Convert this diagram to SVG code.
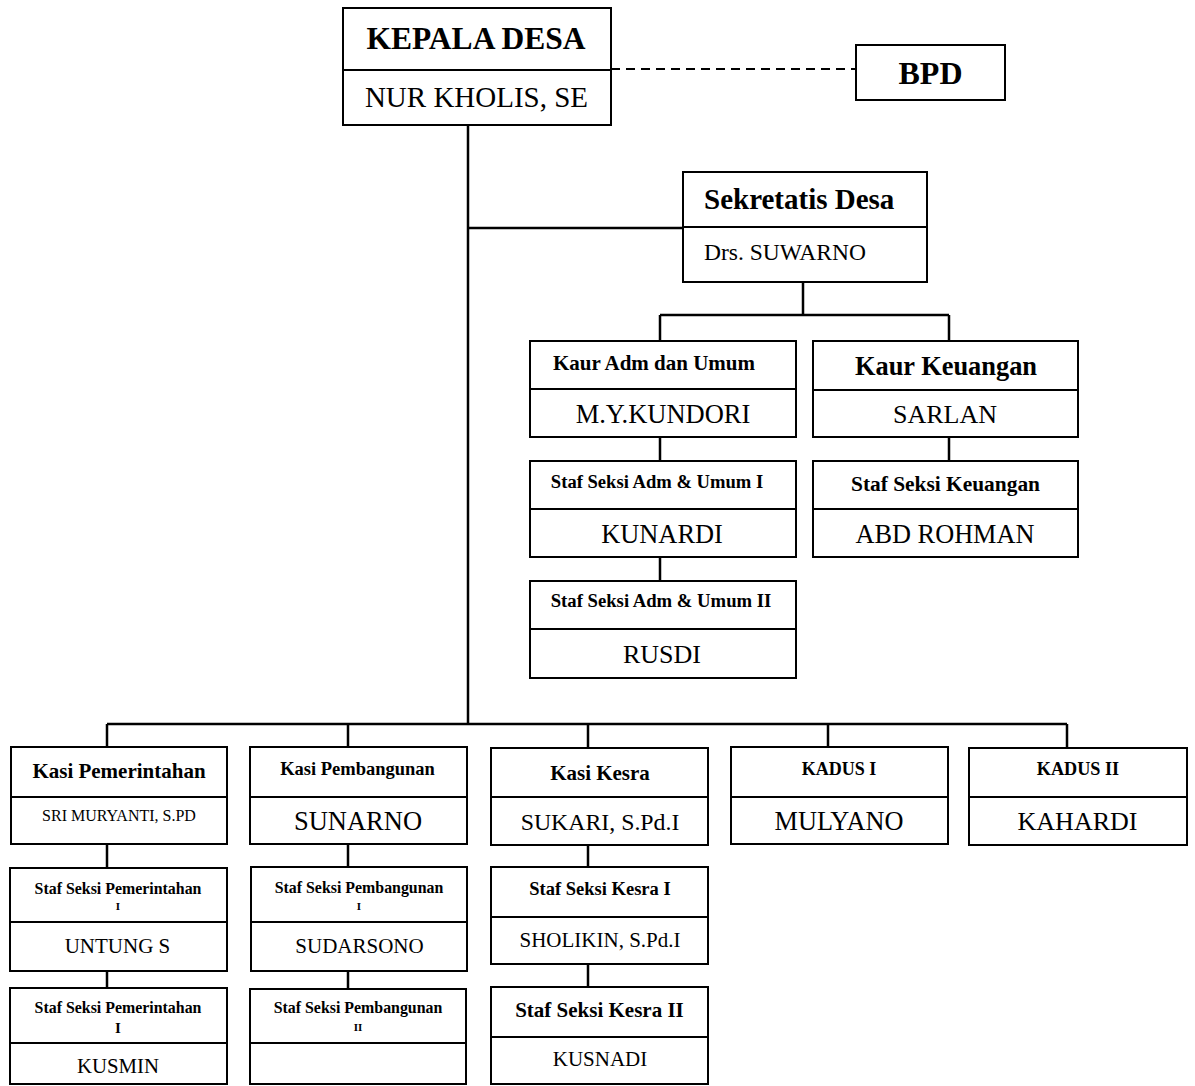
<svg xmlns="http://www.w3.org/2000/svg" width="1195" height="1086" viewBox="0 0 1195 1086">
<style>
.box{fill:#fff;stroke:#000;stroke-width:2}
.div{stroke:#000;stroke-width:2}
.ln{fill:none;stroke:#000;stroke-width:2.5}
.dash{fill:none;stroke:#000;stroke-width:2;stroke-dasharray:9 6}
text{font-family:"Liberation Serif","Times New Roman",serif;fill:#000;text-anchor:middle}
.b{font-weight:bold}
.s{text-anchor:start}
</style>
<rect width="1195" height="1086" fill="#fff"/>
<g id="connectors">
<line class="dash" x1="611" y1="69" x2="856" y2="69"/>
<path class="ln" d="M468 125V724M468 228H683"/>
<path class="ln" d="M803 282V315M660 315H949M660 315V341M949 315V341"/>
<path class="ln" d="M660 437V461M949 437V461M660 557V581"/>
<path class="ln" d="M107 724H1067M107 724V747M348 724V747M588 724V748M828 724V747M1067 724V748"/>
<path class="ln" d="M107 844V868M348 844V867M588 845V867M107 971V988M348 971V989M588 964V987"/>
</g>
<g id="kepala-desa">
<rect class="box" x="343" y="8" width="268" height="117"/>
<line class="div" x1="343" y1="70" x2="611" y2="70"/>
<text class="b" x="476" y="49" font-size="31.5">KEPALA DESA</text>
<text x="476.5" y="107" font-size="29">NUR KHOLIS, SE</text>
</g>
<g id="bpd">
<rect class="box" x="856" y="45" width="149" height="55"/>
<text class="b" x="930.5" y="84" font-size="32">BPD</text>
</g>
<g id="sekretaris">
<rect class="box" x="683" y="172" width="244" height="110"/>
<line class="div" x1="683" y1="227" x2="927" y2="227"/>
<text class="b s" x="704" y="209" font-size="29">Sekretatis Desa</text>
<text class="s" x="704" y="260" font-size="23.5">Drs. SUWARNO</text>
</g>
<g id="kaur-adm">
<rect class="box" x="530" y="341" width="266" height="96"/>
<line class="div" x1="530" y1="389" x2="796" y2="389"/>
<text class="b" x="654" y="370" font-size="21">Kaur Adm dan Umum</text>
<text x="663" y="423" font-size="26.5">M.Y.KUNDORI</text>
</g>
<g id="kaur-keuangan">
<rect class="box" x="813" y="341" width="265" height="96"/>
<line class="div" x1="813" y1="390" x2="1078" y2="390"/>
<text class="b" x="946" y="375" font-size="26.4">Kaur Keuangan</text>
<text x="945" y="423" font-size="26">SARLAN</text>
</g>
<g id="staf-adm-1">
<rect class="box" x="530" y="461" width="266" height="96"/>
<line class="div" x1="530" y1="509" x2="796" y2="509"/>
<text class="b" x="657" y="488" font-size="18.6">Staf Seksi Adm &amp; Umum I</text>
<text x="662" y="543" font-size="26.4">KUNARDI</text>
</g>
<g id="staf-keuangan">
<rect class="box" x="813" y="461" width="265" height="96"/>
<line class="div" x1="813" y1="509" x2="1078" y2="509"/>
<text class="b" x="945.5" y="491" font-size="21.4">Staf Seksi Keuangan</text>
<text x="945" y="543" font-size="26.3">ABD ROHMAN</text>
</g>
<g id="staf-adm-2">
<rect class="box" x="530" y="581" width="266" height="97"/>
<line class="div" x1="530" y1="629" x2="796" y2="629"/>
<text class="b" x="661" y="607" font-size="18.7">Staf Seksi Adm &amp; Umum II</text>
<text x="662" y="663" font-size="26">RUSDI</text>
</g>
<g id="kasi-pemerintahan">
<rect class="box" x="11" y="747" width="216" height="97"/>
<line class="div" x1="11" y1="797" x2="227" y2="797"/>
<text class="b" x="119" y="778" font-size="21">Kasi Pemerintahan</text>
<text x="119" y="821" font-size="16">SRI MURYANTI, S.PD</text>
</g>
<g id="kasi-pembangunan">
<rect class="box" x="250" y="747" width="217" height="97"/>
<line class="div" x1="250" y1="797" x2="467" y2="797"/>
<text class="b" x="357.5" y="775" font-size="18.5">Kasi Pembangunan</text>
<text x="358" y="830" font-size="26.5">SUNARNO</text>
</g>
<g id="kasi-kesra">
<rect class="box" x="491" y="748" width="217" height="97"/>
<line class="div" x1="491" y1="797" x2="708" y2="797"/>
<text class="b" x="600" y="780" font-size="21">Kasi Kesra</text>
<text x="600" y="830" font-size="23.8">SUKARI, S.Pd.I</text>
</g>
<g id="kadus-1">
<rect class="box" x="731" y="747" width="217" height="97"/>
<line class="div" x1="731" y1="797" x2="948" y2="797"/>
<text class="b" x="839" y="775" font-size="18">KADUS I</text>
<text x="839" y="830" font-size="26.3">MULYANO</text>
</g>
<g id="kadus-2">
<rect class="box" x="969" y="748" width="218" height="97"/>
<line class="div" x1="969" y1="797" x2="1187" y2="797"/>
<text class="b" x="1078" y="775" font-size="18.2">KADUS II</text>
<text x="1077.5" y="830" font-size="26">KAHARDI</text>
</g>
<g id="staf-pemerintahan-1">
<rect class="box" x="10" y="868" width="217" height="103"/>
<line class="div" x1="10" y1="922" x2="227" y2="922"/>
<text class="b" x="118" y="894" font-size="15.9">Staf Seksi Pemerintahan</text>
<text class="b" x="118" y="910" font-size="11">I</text>
<text x="117.5" y="953" font-size="21">UNTUNG S</text>
</g>
<g id="staf-pemerintahan-2">
<rect class="box" x="10" y="988" width="217" height="96"/>
<line class="div" x1="10" y1="1043" x2="227" y2="1043"/>
<text class="b" x="118" y="1013" font-size="15.9">Staf Seksi Pemerintahan</text>
<text class="b" x="118" y="1033" font-size="15">I</text>
<text x="118" y="1073" font-size="20.8">KUSMIN</text>
</g>
<g id="staf-pembangunan-1">
<rect class="box" x="251" y="867" width="216" height="104"/>
<line class="div" x1="251" y1="922" x2="467" y2="922"/>
<text class="b" x="359" y="893" font-size="15.9">Staf Seksi Pembangunan</text>
<text class="b" x="359" y="910" font-size="11">I</text>
<text x="359.5" y="953" font-size="21">SUDARSONO</text>
</g>
<g id="staf-pembangunan-2">
<rect class="box" x="250" y="989" width="216" height="95"/>
<line class="div" x1="250" y1="1043" x2="466" y2="1043"/>
<text class="b" x="358" y="1013" font-size="15.9">Staf Seksi Pembangunan</text>
<text class="b" x="358" y="1031" font-size="11">II</text>
</g>
<g id="staf-kesra-1">
<rect class="box" x="491" y="867" width="217" height="97"/>
<line class="div" x1="491" y1="917" x2="708" y2="917"/>
<text class="b" x="600" y="895" font-size="18.5">Staf Seksi Kesra I</text>
<text x="600" y="947" font-size="21">SHOLIKIN, S.Pd.I</text>
</g>
<g id="staf-kesra-2">
<rect class="box" x="491" y="987" width="217" height="97"/>
<line class="div" x1="491" y1="1037" x2="708" y2="1037"/>
<text class="b" x="599.5" y="1017" font-size="21">Staf Seksi Kesra II</text>
<text x="600" y="1066" font-size="21">KUSNADI</text>
</g>
</svg>
